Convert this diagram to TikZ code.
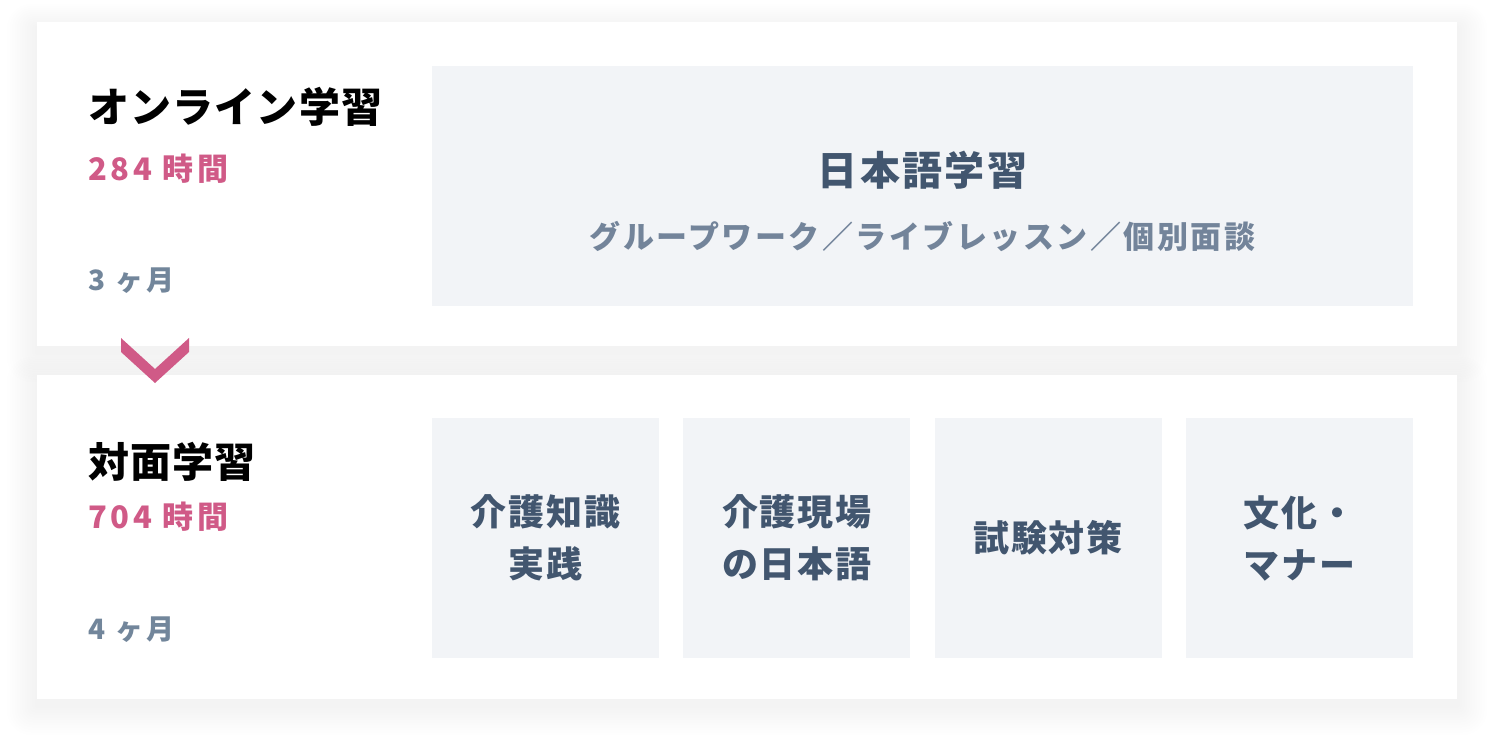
\documentclass[tikz,border=0pt]{standalone}
\usepackage{fontspec}
\setmainfont{Noto Sans CJK JP}
\usetikzlibrary{positioning}
\definecolor{hourpink}{HTML}{D05A87}
\definecolor{monthgray}{HTML}{72869B}
\definecolor{coursefill}{HTML}{F2F4F7}
\definecolor{coursetext}{HTML}{42566F}
\definecolor{subgray}{HTML}{73849A}
\tikzstyle{every node}=[inner sep=0pt,outer sep=0pt]
\tikzstyle{card}=[fill=white,minimum width=1420pt,minimum height=324pt,anchor=north west]
\tikzstyle{heading}=[anchor=west,font=\fontsize{41}{48}\selectfont\bfseries\addfontfeature{LetterSpace=3}]
\tikzstyle{hours}=[anchor=west,text=hourpink,font=\fontsize{31}{36}\selectfont\bfseries\addfontfeature{LetterSpace=12}]
\tikzstyle{months}=[anchor=west,text=monthgray,font=\fontsize{28}{34}\selectfont\bfseries\addfontfeature{LetterSpace=13}]
\tikzstyle{course}=[fill=coursefill,text=coursetext,align=center,minimum width=227pt,minimum height=240pt,font=\fontsize{36}{52}\selectfont\bfseries\addfontfeature{LetterSpace=5}]

\begin{document}
\begin{tikzpicture}[x=1pt,y=-1pt]
    \useasboundingbox (0,0) rectangle (1494,751);
    % soft shadows under the two cards
    \foreach \top in {22,375}{
        \foreach \i in {1,...,12}{
            \fill[black,opacity=0.0045,rounded corners=2*\i] (37-2.5*\i,\top-2*\i+6) rectangle (1457+2.5*\i,\top+324+2.5*\i+6);
        }
    }
    \node[card] (onlinecard) at (37,22) {};
    \node[card] (facecard) at (37,375) {};

    % online part
    \node[heading] (online) at (88,107) {オンライン学習};
    \node[hours] (onlinehours) at (88,169) {284 時間};
    \node[months] (onlinemonths) at (88,281) {3 ヶ月};
    \node[course,anchor=north west,minimum width=981pt] (jpbox) at (432,66) {};
    \node[text=coursetext,font=\fontsize{40}{46}\selectfont\bfseries\addfontfeature{LetterSpace=6}] (jptitle) at ([yshift=16pt]jpbox.center) {日本語学習};
    \node[text=subgray,font=\fontsize{31}{38}\selectfont\bfseries\addfontfeature{LetterSpace=8}] (jpsub) at ([yshift=-51pt]jpbox.center) {グループワーク／ライブレッスン／個別面談};

    % arrow between the cards
    \fill[hourpink] (121,338) -- (155,369) -- (189,338) -- (189,352) -- (155,383) -- (121,352) -- cycle;

    % face to face part
    \node[heading] (face) at (88,462) {対面学習};
    \node[hours] (facehours) at (88,517) {704 時間};
    \node[months] (facemonths) at (88,630) {4 ヶ月};
    \node[course,anchor=north west] (carebox) at (432,418) {介護知識\\実践};
    \node[course,right=24.3pt of carebox] (fieldbox) {介護現場\\の日本語};
    \node[course,right=24.3pt of fieldbox] (exambox) {試験対策};
    \node[course,right=24.3pt of exambox] (culturebox) {文化・\\マナー};
\end{tikzpicture}
\end{document}
